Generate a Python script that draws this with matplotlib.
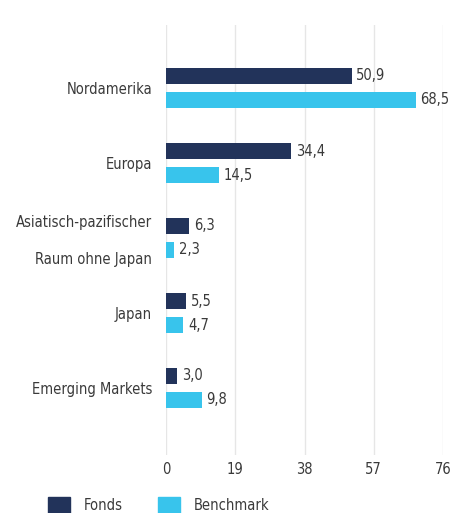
import numpy as np
import matplotlib.pyplot as plt
from matplotlib.patches import Rectangle

regions = ['Nordamerika', 'Europa', 'Asiatisch-pazifischer\n\nRaum ohne Japan',
           'Japan', 'Emerging Markets']
fonds = [50.9, 34.4, 6.3, 5.5, 3.0]
benchmark = [68.5, 14.5, 2.3, 4.7, 9.8]
x_ticks = [0, 19, 38, 57, 76]

navy = '#22335a'
cyan = '#38c4ec'
txt = '#3a3a3a'
fs = 10.5

# DejaVu Sans Condensed comes closest to the narrow face of the original
plt.rcParams['font.family'] = ['DejaVu Sans']
plt.rcParams['font.stretch'] = 'condensed'

fig = plt.figure(figsize=(4.52, 5.13), dpi=100)
ax = fig.add_axes([166 / 452, 1 - 455 / 513, 277 / 452, 430 / 513])

y = np.arange(len(regions))
h = 16 / 75
off = 12 / 75
ax.barh(y - off, fonds, height=h, color=navy, zorder=3)
ax.barh(y + off, benchmark, height=h, color=cyan, zorder=3)

for yi, v in zip(y - off, fonds):
    ax.text(v + 1.3, yi, f'{v:.1f}'.replace('.', ','), va='center', ha='left',
            fontsize=fs, color=txt)
for yi, v in zip(y + off, benchmark):
    ax.text(v + 1.3, yi, f'{v:.1f}'.replace('.', ','), va='center', ha='left',
            fontsize=fs, color=txt)

ax.set_xlim(0, 76)
ax.set_ylim(4 + 67 / 75, -63 / 75)
ax.set_xticks(x_ticks)
ax.set_xticklabels([str(t) for t in x_ticks], fontsize=fs, color=txt)
ax.set_yticks(y)
ax.set_yticklabels(regions, fontsize=fs, color=txt, linespacing=1.27)
ax.tick_params(axis='both', length=0)
ax.tick_params(axis='y', pad=10)
ax.tick_params(axis='x', pad=5)
ax.grid(axis='x', color='#e6e6e6', linewidth=1, zorder=0)
for s in ax.spines.values():
    s.set_visible(False)

# legend
for x0, label, c in [(48, 'Fonds', navy), (158, 'Benchmark', cyan)]:
    fig.patches.append(Rectangle((x0 / 452, 1 - 513 / 513), 22 / 452, 16 / 513,
                                 transform=fig.transFigure, color=c))
    fig.text((x0 + 36) / 452, 1 - 505 / 513, label, fontsize=fs, color=txt,
             va='center', ha='left')

# cut-off title at the very top
fig.text(10 / 452, 1 + 10 / 513, '10 DES PORTFOLIOS', fontsize=15,
         fontweight='bold', color='#1a1a1a', va='center', ha='left')

fig.savefig('out.png', dpi=100)
